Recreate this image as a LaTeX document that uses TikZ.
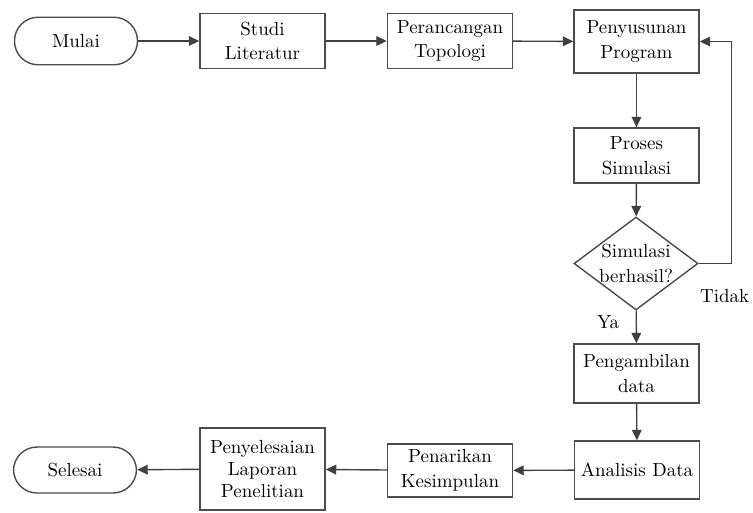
\documentclass[tikz,border=0pt]{standalone}
\usetikzlibrary{arrows.meta,shapes.geometric}

\begin{document}
\begin{tikzpicture}[x=0.02cm,y=-0.02cm,
  font=\fontsize{10.8}{14}\selectfont,
  box/.style={draw=black!70,line width=0.8pt,align=center,
    minimum width=2.5cm,minimum height=1.1cm,inner sep=1pt},
  term/.style={box,rounded corners=0.47cm,minimum width=2.46cm,minimum height=0.95cm},
  cond/.style={box,diamond,aspect=1.33,inner xsep=-4pt,inner ysep=0pt,
    minimum width=2.48cm,minimum height=1.86cm},
  line/.style={draw=black!75,line width=0.8pt,-{Triangle[length=6pt,width=5.5pt]}}]
\useasboundingbox (0,0) rectangle (753,512);
% top row
\node[term] (mulai)    at (76,41)    {Mulai};
\node[box]  (studi)    at (262.5,41) {Studi\\Literatur};
\node[box]  (topologi) at (450,41)   {Perancangan\\Topologi};
\node[box,minimum height=1.26cm] (program) at (636.5,41.5) {Penyusunan\\Program};
% right column
\node[box]  (simulasi) at (636.5,155.5) {Proses\\Simulasi};
\node[cond] (cek)      at (636,263.5)   {Simulasi\\berhasil?};
\node[box,minimum height=1.18cm] (ambil) at (636.5,373.5) {Pengambilan\\data};
% bottom row
\node[box,minimum height=1.16cm] (analisis) at (637,470) {Analisis Data};
\node[box,minimum height=1.06cm] (kesimpulan) at (450,470.5) {Penarikan\\Kesimpulan};
\node[box,minimum height=1.64cm,font=\fontsize{10.8}{12.5}\selectfont]
  (laporan) at (262.5,469) {Penyelesaian\\Laporan\\Penelitian};
\node[term,minimum height=0.92cm] (selesai) at (75,470) {Selesai};
% connectors
\draw[line] (mulai) -- (studi);
\draw[line] (studi) -- (topologi);
\draw[line] (topologi) -- (program);
\draw[line] (program) -- (simulasi);
\draw[line] (simulasi) -- (cek);
\draw[line] (cek) -- node[left=6pt,pos=0.35] (ya) {Ya} (ambil);
\draw[line] (cek.east) -- ++(33,0) node[below=11pt,xshift=-4pt] (tidak) {Tidak}
  |- (program.east);
\draw[line] (ambil) -- (analisis);
\draw[line] (analisis) -- (kesimpulan);
\draw[line] (kesimpulan) -- (laporan);
\draw[line] (laporan) -- (selesai);
\end{tikzpicture}
\end{document}
